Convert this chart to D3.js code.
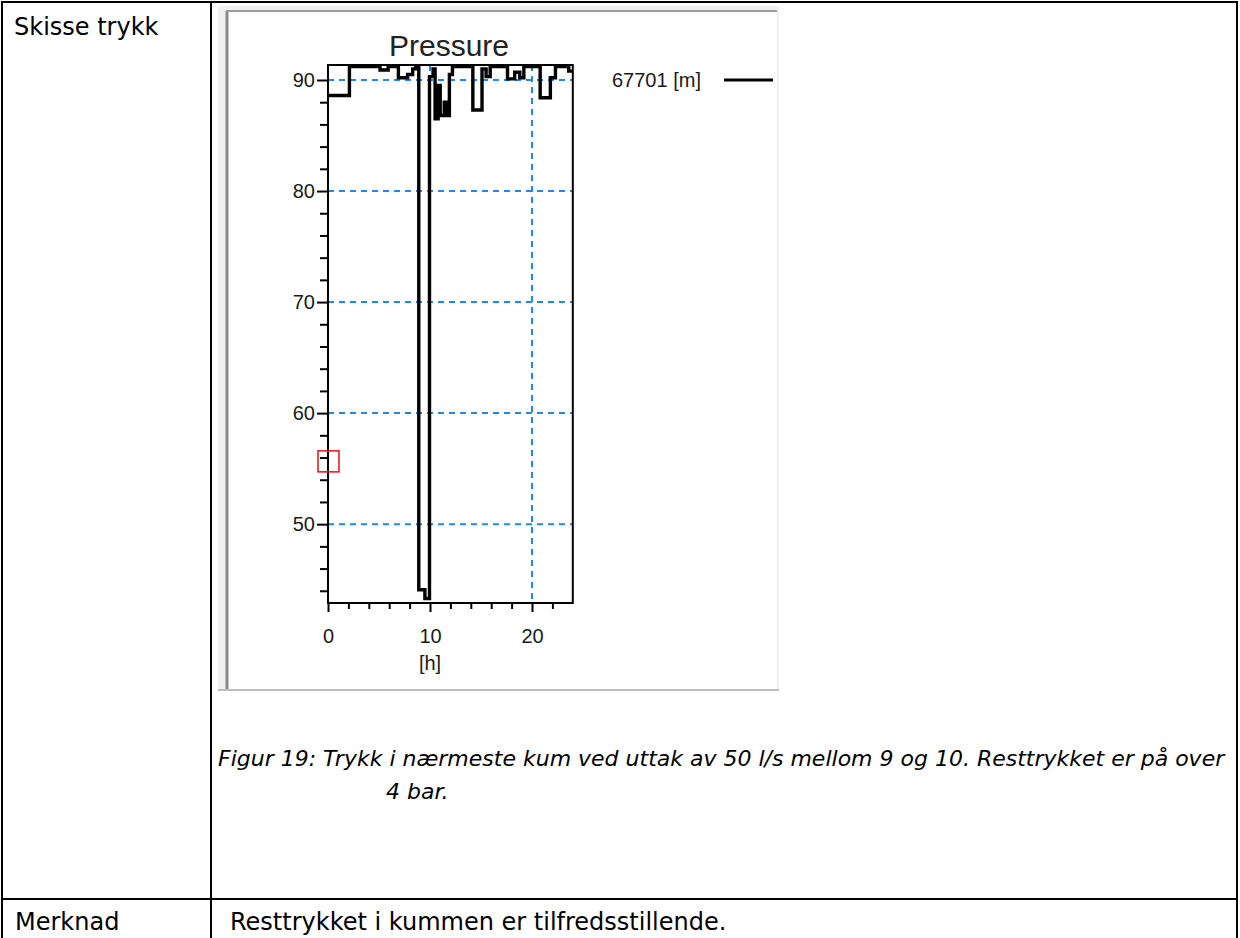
<!DOCTYPE HTML>
<html lang="no">
<head>
  <meta charset="utf-8">
  <title>Skisse trykk</title>
  <script src="https://cdn.jsdelivr.net/npm/d3@7/dist/d3.min.js"></script>
  <style>
    body { margin: 0; background: #fff; }
  </style>
</head>
<body>
<div id="stage"></div>
<script>
  // pressure in the nearest manhole, 50 l/s drawn between 9 and 10 h
  var hours    = [0, 2.1, 5.1, 5.9, 6.9, 7.8, 8.3, 8.6, 8.9, 9.5, 9.95, 10.3, 10.5, 10.8, 11.0, 11.4, 11.6, 11.9, 12.2, 14.2, 15.1, 15.5, 15.9, 17.6, 18.3, 18.8, 19.2, 20.8, 21.8, 22.3, 23.6, 24.0];
  var pressure = [88.6, 91.2, 90.9, 91.2, 90.2, 90.5, 91.0, 91.2, 44.1, 43.3, 90.3, 91.0, 86.5, 89.5, 86.8, 88.0, 86.8, 90.5, 91.2, 87.3, 91.0, 90.3, 91.2, 90.1, 90.7, 90.2, 91.2, 88.4, 90.2, 91.2, 90.8, 90.8];
  var seriesName = "67701 [m]";
  var yTicks = [50, 60, 70, 80, 90];
  var xTicks = [0, 10, 20];
  var marked = {h: 0, p: 55.7};  // red box on the y axis

  var W = 1240, H = 938;
  var svg = d3.select("#stage").append("svg").attr("width", W).attr("height", H);
  svg.append("rect").attr("width", W).attr("height", H).attr("fill", "#fff");

  // --- table ---
  var tb = svg.append("g").attr("stroke", "#000").attr("stroke-width", 2).attr("fill", "none");
  tb.append("line").attr("x1", 2).attr("x2", 1237).attr("y1", 2).attr("y2", 2);
  tb.append("line").attr("x1", 2).attr("x2", 2).attr("y1", 1).attr("y2", H);
  tb.append("line").attr("x1", 1237).attr("x2", 1237).attr("y1", 1).attr("y2", H);
  tb.append("line").attr("x1", 211).attr("x2", 211).attr("y1", 1).attr("y2", H);
  tb.append("line").attr("x1", 2).attr("x2", 1237).attr("y1", 899).attr("y2", 899);

  var cellFont = "'DejaVu Sans', Verdana, sans-serif";
  svg.append("text").attr("x", 14).attr("y", 35).attr("font-family", cellFont).attr("font-size", 24).text("Skisse trykk");
  svg.append("text").attr("x", 15).attr("y", 930).attr("font-family", cellFont).attr("font-size", 24).text("Merknad");
  svg.append("text").attr("x", 230).attr("y", 930).attr("font-family", cellFont).attr("font-size", 24).text("Resttrykket i kummen er tilfredsstillende.");

  svg.append("text").attr("x", 218).attr("y", 766).attr("font-family", cellFont).attr("font-style", "italic").attr("font-size", 22)
    .text("Figur 19: Trykk i nærmeste kum ved uttak av 50 l/s mellom 9 og 10. Resttrykket er på over");
  svg.append("text").attr("x", 386).attr("y", 799).attr("font-family", cellFont).attr("font-style", "italic").attr("font-size", 22)
    .text("4 bar.");

  // --- screenshot window frame ---
  var fr = svg.append("g");
  fr.append("rect").attr("x", 218).attr("y", 6).attr("width", 561).attr("height", 684).attr("fill", "#f0f0f0");
  fr.append("rect").attr("x", 227).attr("y", 11).attr("width", 550).attr("height", 678).attr("fill", "#fff");
  fr.append("line").attr("x1", 227).attr("x2", 227).attr("y1", 11).attr("y2", 689).attr("stroke", "#8a8a8a").attr("stroke-width", 3);
  fr.append("line").attr("x1", 226).attr("x2", 777).attr("y1", 11).attr("y2", 11).attr("stroke", "#9a9a9a").attr("stroke-width", 2);
  fr.append("line").attr("x1", 218).attr("x2", 779).attr("y1", 690).attr("y2", 690).attr("stroke", "#bdbdbd").attr("stroke-width", 2);

  // --- chart ---
  var x = d3.scaleLinear().domain([0, 24]).range([328, 572.8]);
  var y = d3.scaleLinear().domain([42.9, 91.35]).range([603, 65]);
  var chartFont = "'Liberation Sans', Arial, sans-serif";
  var gridBlue = "#1e88f0";

  var g = svg.append("g");

  // grid
  g.selectAll(".hgrid").data(yTicks).enter().append("line")
    .attr("x1", x(0)).attr("x2", x(24)).attr("y1", function(d) { return y(d); }).attr("y2", function(d) { return y(d); })
    .attr("stroke", gridBlue).attr("stroke-width", 2).attr("stroke-dasharray", "6,5");
  g.selectAll(".vgrid").data(xTicks.filter(function(d) { return d > 0; })).enter().append("line")
    .attr("x1", function(d) { return x(d); }).attr("x2", function(d) { return x(d); }).attr("y1", y.range()[1]).attr("y2", y.range()[0])
    .attr("stroke", gridBlue).attr("stroke-width", 2).attr("stroke-dasharray", "6,5");

  // axes
  var yAxis = d3.axisLeft(y).tickValues(d3.range(44, 91, 2)).tickSize(8)
    .tickFormat(function(d) { return yTicks.indexOf(d) >= 0 ? d : ""; });
  var ya = g.append("g").attr("transform", "translate(" + x(0) + ",0)").call(yAxis);
  var xAxis = d3.axisBottom(x).tickValues(d3.range(0, 24, 2)).tickSize(6)
    .tickFormat(function(d) { return xTicks.indexOf(d) >= 0 ? d : ""; });
  var xa = g.append("g").attr("transform", "translate(0," + y(42.9) + ")").call(xAxis);

  [ya, xa].forEach(function(a) {
    a.select(".domain").remove();
    a.selectAll("line").attr("stroke", "#000").attr("stroke-width", 2);
    a.selectAll("text").attr("font-family", chartFont).attr("font-size", 20).attr("fill", "#1a1a1a");
  });
  ya.selectAll(".tick").filter(function(d) { return yTicks.indexOf(d) >= 0; }).select("line").attr("x2", -11);
  ya.selectAll("text").attr("x", -13);
  xa.selectAll(".tick").filter(function(d) { return xTicks.indexOf(d) >= 0; }).select("line").attr("y2", 9);
  xa.selectAll("text").attr("y", 26);

  // plot frame
  g.append("rect").attr("x", x(0)).attr("y", y.range()[1]).attr("width", x(24) - x(0)).attr("height", y.range()[0] - y.range()[1])
    .attr("fill", "none").attr("stroke", "#000").attr("stroke-width", 2);

  // data
  var pts = hours.map(function(h, i) { return [h, pressure[i]]; });
  var line = d3.line().x(function(d) { return x(d[0]); }).y(function(d) { return y(d[1]); }).curve(d3.curveStepAfter);
  g.append("path").datum(pts).attr("d", line).attr("fill", "none").attr("stroke", "#000").attr("stroke-width", 3.4);

  // marker box
  g.append("rect").attr("x", x(marked.h) - 10).attr("y", y(marked.p) - 10).attr("width", 21).attr("height", 21)
    .attr("fill", "none").attr("stroke", "#e8201c").attr("stroke-width", 1.6);

  // title and labels
  g.append("text").attr("x", 449).attr("y", 56).attr("text-anchor", "middle").attr("font-family", chartFont)
    .attr("font-size", 30).attr("fill", "#222").text("Pressure");
  g.append("text").attr("x", x(10)).attr("y", 670).attr("text-anchor", "middle").attr("font-family", chartFont)
    .attr("font-size", 20).attr("fill", "#1a1a1a").text("[h]");

  // legend
  g.append("text").attr("x", 612).attr("y", 87).attr("font-family", chartFont).attr("font-size", 20)
    .attr("fill", "#1a1a1a").text(seriesName);
  g.append("line").attr("x1", 724).attr("x2", 773).attr("y1", 80).attr("y2", 80).attr("stroke", "#000").attr("stroke-width", 3);
</script>
</body>
</html>
